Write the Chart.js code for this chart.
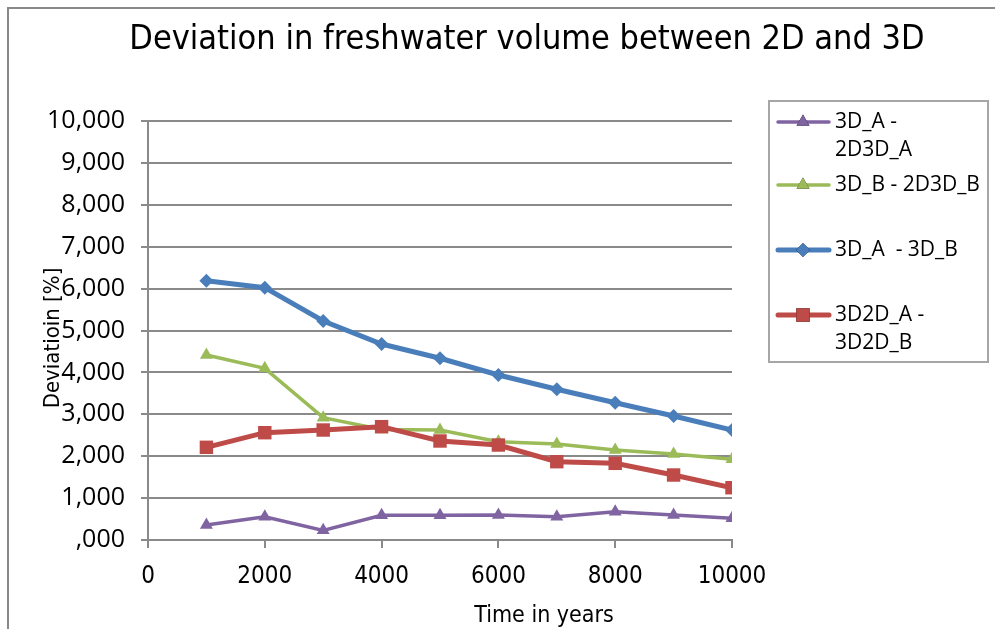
<!DOCTYPE html>
<html>
<head>
<meta charset="utf-8">
<script src="https://cdn.jsdelivr.net/npm/chart.js@4.4.1/dist/chart.umd.min.js"></script>
<style>
  html, body { margin: 0; padding: 0; background: #fff; }
  #wrap { position: relative; width: 995px; height: 629px; }
</style>
</head>
<body>
<div id="wrap"><canvas id="deviationChart"></canvas></div>
<script>
const years = [1000, 2000, 3000, 4000, 5000, 6000, 7000, 8000, 9000, 10000];
const dev3DA_2D3DA = [358, 556, 230, 589, 589, 597, 556, 675, 597, 518];
const dev3DB_2D3DB = [4415, 4098, 2919, 2640, 2625, 2346, 2291, 2148, 2053, 1926];
const dev3DA_3DB = [6188, 6022, 5227, 4678, 4337, 3938, 3597, 3277, 2959, 2625];
const dev3D2DA_3D2DB = [2212, 2561, 2625, 2705, 2363, 2267, 1869, 1830, 1551, 1248];

const seriesLabels = [['3D_A -', '2D3D_A'], ['3D_B - 2D3D_B'], ['3D_A  - 3D_B'], ['3D2D_A -', '3D2D_B']];
const xTicks = [0, 2000, 4000, 6000, 8000, 10000];

const GRID = '#8a8a8a';
const TEXT_FONT = '"Open Sans", sans-serif';
const NARROW_FONT = '"Liberation Sans Narrow", "DejaVu Sans Condensed", sans-serif';

const toPoints = vals => vals.map((v, i) => ({ x: years[i], y: v }));

// outer frame, titles and the boxed legend
const decorations = {
    id: 'decorations',
    afterDraw(chart) {
        const ctx = chart.ctx;
        ctx.save();

        ctx.strokeStyle = '#888';
        ctx.lineWidth = 2;
        ctx.beginPath();
        ctx.moveTo(8, 629);
        ctx.lineTo(8, 8);
        ctx.lineTo(995, 8);
        ctx.stroke();

        ctx.fillStyle = '#000';
        ctx.textAlign = 'center';
        ctx.textBaseline = 'middle';
        ctx.font = '34px ' + NARROW_FONT;
        ctx.fillText('Deviation in freshwater volume between 2D and 3D', 527, 40);

        ctx.font = '23px ' + NARROW_FONT;
        ctx.fillText('Time in years', 544, 616);

        ctx.save();
        ctx.translate(53, 338);
        ctx.rotate(-Math.PI / 2);
        ctx.font = '22px ' + NARROW_FONT;
        ctx.fillText('Deviatioin [%]', 0, 0);
        ctx.restore();

        // legend box
        ctx.strokeStyle = '#a6a6a6';
        ctx.lineWidth = 2;
        ctx.strokeRect(769, 101, 219, 261);

        const rows = [122, 185, 250, 315];
        ctx.font = '21px ' + TEXT_FONT;
        ctx.textAlign = 'left';
        chart.data.datasets.forEach((ds, i) => {
            const y = rows[i];
            ctx.strokeStyle = ds.borderColor;
            ctx.lineWidth = ds.borderWidth;
            ctx.lineCap = 'round';
            ctx.beginPath();
            ctx.moveTo(778, y);
            ctx.lineTo(829, y);
            ctx.stroke();
            Chart.helpers.drawPoint(ctx, {
                pointStyle: ds.pointStyle,
                rotation: 0,
                radius: ds.pointRadius,
                borderWidth: 0
            }, 803, y);
            ctx.fillStyle = ds.backgroundColor;
            ctx.fill();
            ctx.fillStyle = '#000';
            const lines = Array.isArray(ds.label) ? ds.label : [ds.label];
            lines.forEach((t, k) => ctx.fillText(t, 835, y + k * 28));
        });
        ctx.restore();
    }
};

const datasets = [
    { label: seriesLabels[0], data: toPoints(dev3DA_2D3DA), borderColor: '#8064A2', backgroundColor: '#8064A2',
      borderWidth: 3.5, pointStyle: 'triangle', pointRadius: 7.5, order: 3 },
    { label: seriesLabels[1], data: toPoints(dev3DB_2D3DB), borderColor: '#9BBB59', backgroundColor: '#9BBB59',
      borderWidth: 3.5, pointStyle: 'triangle', pointRadius: 7.5, order: 2 },
    { label: seriesLabels[2], data: toPoints(dev3DA_3DB), borderColor: '#4A7EBB', backgroundColor: '#4A7EBB',
      borderWidth: 5, pointStyle: 'rectRot', pointRadius: 7, order: 1 },
    { label: seriesLabels[3], data: toPoints(dev3D2DA_3D2DB), borderColor: '#BE4B48', backgroundColor: '#BE4B48',
      borderWidth: 5, pointStyle: 'rect', pointRadius: 9.5, order: 0 }
];
datasets.forEach(ds => { ds.pointBorderWidth = 0; ds.tension = 0; ds.pointHoverRadius = ds.pointRadius; });

new Chart(document.getElementById('deviationChart'), {
    type: 'line',
    data: { datasets: datasets },
    options: {
        responsive: true,
        maintainAspectRatio: false,
        animation: false,
        layout: { padding: { left: 0, top: 121, right: 263, bottom: 0 } },
        plugins: {
            legend: { display: false },
            title: { display: false },
            tooltip: { enabled: false }
        },
        scales: {
            x: {
                type: 'linear',
                min: 0,
                max: 10000,
                afterFit: s => { s.height = 89; },
                afterBuildTicks: s => { s.ticks = xTicks.map(v => ({ value: v })); },
                border: { color: GRID, width: 2 },
                grid: { drawOnChartArea: false, drawTicks: true, tickLength: 8, color: GRID, lineWidth: 2 },
                ticks: { color: '#000', padding: 14, maxRotation: 0, font: { family: NARROW_FONT, size: 24 },
                         callback: v => String(v) }
            },
            y: {
                min: 0,
                max: 10000,
                afterFit: s => { s.width = 148; },
                border: { color: GRID, width: 2 },
                grid: { color: GRID, lineWidth: 2, tickLength: 7 },
                ticks: { stepSize: 1000, color: '#000', padding: 16, font: { family: TEXT_FONT, size: 25 },
                         callback: v => v === 0 ? ',000' : v.toLocaleString('en-US') }
            }
        }
    },
    plugins: [decorations]
});
</script>
</body>
</html>
